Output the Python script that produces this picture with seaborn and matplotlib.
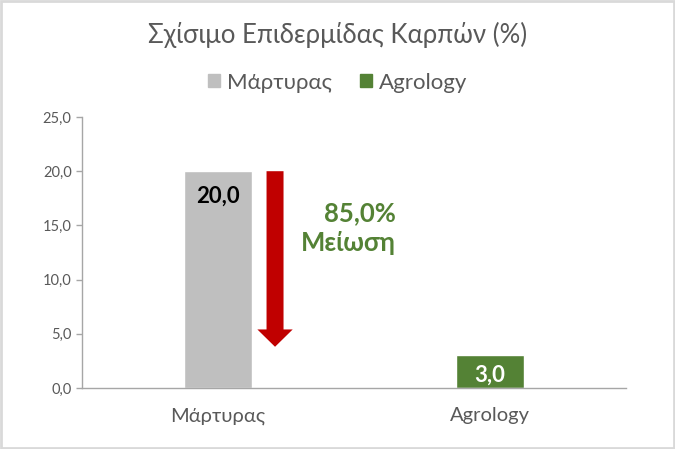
import matplotlib
matplotlib.use('Agg')
import matplotlib.pyplot as plt
import seaborn as sns
from matplotlib.patches import Patch, FancyArrow, Rectangle

# chart data
categories = ['Μάρτυρας', 'Agrology']
values = [20.0, 3.0]
bar_colors = ['#BFBFBF', '#548235']
label_colors = ['black', 'white']
reduction_text = '85,0%\nΜείωση'
y_ticks = [0, 5, 10, 15, 20, 25]

sns.set_style('white')
plt.rcParams['font.family'] = ['Lato', 'Open Sans', 'DejaVu Sans']

fig = plt.figure(figsize=(6.75, 4.49), dpi=100)
ax = fig.add_axes([0.1215, 0.1359, 0.8055, 0.6035])

sns.barplot(x=categories, y=values, hue=categories, palette=bar_colors,
            width=0.25, legend=False, ax=ax, saturation=1)

ax.set_xlim(-0.5, 1.5)
ax.set_ylim(0, 25)
ax.set_yticks(y_ticks)
ax.set_yticklabels([f'{t:.1f}'.replace('.', ',') for t in y_ticks])

for s in ['top', 'right']:
    ax.spines[s].set_visible(False)
for s in ['left', 'bottom']:
    ax.spines[s].set_color('#A6A6A6')
    ax.spines[s].set_linewidth(1.0)
ax.tick_params(axis='y', colors='#595959', labelsize=10.5, length=4, width=1,
               left=True, color='#A6A6A6')
ax.tick_params(axis='x', colors='#595959', labelsize=14.5, length=0, pad=14)
ax.set_xlabel('')
ax.set_ylabel('')

# value labels inside the bars (offset below the bar top)
label_drop = [2.35, 1.85]
for i, v in enumerate(values):
    ax.text(i, v - label_drop[i], f'{v:.1f}'.replace('.', ','), ha='center', va='center',
            fontsize=16, fontweight='bold', color=label_colors[i])

# reduction arrow
arrow = FancyArrow(0.21, 20, 0, -16.2, width=0.0625, head_width=0.13,
                   head_length=1.6, length_includes_head=True,
                   color='#C00000', linewidth=0)
ax.add_patch(arrow)
ax.text(0.655, 14.75, reduction_text, ha='right', va='center', fontsize=18.5,
        fontweight='bold', color='#548235', linespacing=1.3)

# title and legend
fig.text(0.5, 0.922, 'Σχίσιμο Επιδερμίδας Καρπών (%)', ha='center', va='center',
         fontsize=18.5, color='#595959')
handles = [Patch(color=c, label=l) for c, l in zip(bar_colors, categories)]
fig.legend(handles=handles, loc='center', bbox_to_anchor=(0.5, 0.816), ncol=2,
           frameon=False, fontsize=16, labelcolor='#595959', handlelength=0.55,
           handleheight=0.55, handletextpad=0.3, columnspacing=1.25)

# outer frame
fig.patches.append(Rectangle((0.002, 0.003), 0.996, 0.994, transform=fig.transFigure,
                             fill=False, edgecolor='#D9D9D9', linewidth=2))

fig.savefig('out.png', dpi=100)
